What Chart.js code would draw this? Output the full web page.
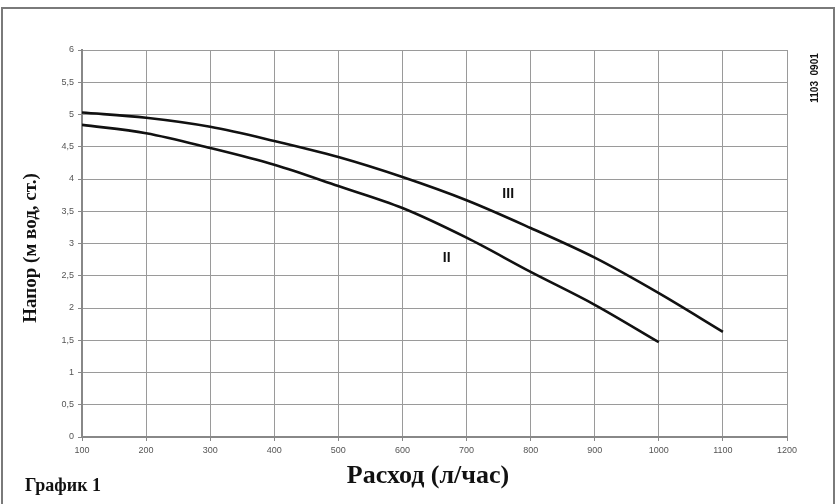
<!DOCTYPE html>
<html><head><meta charset="utf-8">
<script src="https://cdn.jsdelivr.net/npm/chart.js@4/dist/chart.umd.min.js"></script>
<style>html,body{margin:0;padding:0;background:#fff}#wrap{width:837px;height:504px;position:relative}</style>
</head><body><div id="wrap"><canvas id="c" width="837" height="504"></canvas></div>
<script>
const flowIII = [100,200,300,400,500,600,700,800,900,1000,1100];
const headIII = [5.03,4.95,4.81,4.59,4.34,4.03,3.67,3.24,2.78,2.23,1.63];
const flowII = [100,200,300,400,500,600,700,800,900,1000];
const headII = [4.84,4.71,4.48,4.22,3.89,3.55,3.09,2.56,2.05,1.47];
const curveNames = ['III','II'];
const curveLabelX = [765,669];
const curveLabelY = [3.77,2.78];
const xTitle = 'Расход (л/час)';
const yTitle = 'Напор (м вод, ст.)';
const chartCaption = 'График 1';
const codeText = '1103  0901';

const extras = {
  id:'extras',
  beforeDraw(chart){
    const ctx=chart.ctx; ctx.save();
    ctx.fillStyle='#fff'; ctx.fillRect(0,0,chart.width,chart.height);
    ctx.restore();
  },
  afterDraw(chart){
    const ctx=chart.ctx, xs=chart.scales.x, ys=chart.scales.y;
    ctx.save();
    // frame
    ctx.strokeStyle='#7a7a7a'; ctx.lineWidth=2;
    ctx.beginPath(); ctx.moveTo(2,510); ctx.lineTo(2,8); ctx.lineTo(834,8); ctx.lineTo(834,510); ctx.stroke();
    // curve labels
    ctx.fillStyle='#111'; ctx.font='bold 14px "Liberation Sans", Arial, sans-serif';
    ctx.textAlign='center'; ctx.textBaseline='middle';
    curveNames.forEach((n,i)=>ctx.fillText(n, xs.getPixelForValue(curveLabelX[i]), ys.getPixelForValue(curveLabelY[i])));
    // x title
    ctx.textBaseline='alphabetic';
    ctx.font='bold 26px "Liberation Serif", "Times New Roman", serif';
    ctx.fillText(xTitle, 428, 483);
    // caption
    ctx.textAlign='left';
    ctx.font='bold 18px "Liberation Serif", "Times New Roman", serif';
    ctx.fillText(chartCaption, 25, 491);
    // y title
    ctx.save(); ctx.translate(31,248); ctx.rotate(-Math.PI/2);
    ctx.textAlign='center'; ctx.textBaseline='middle';
    ctx.font='bold 19px "Liberation Serif", "Times New Roman", serif';
    ctx.fillText(yTitle,0,0); ctx.restore();
    // code
    ctx.save(); ctx.translate(815,78); ctx.rotate(-Math.PI/2);
    ctx.textAlign='center'; ctx.textBaseline='middle';
    ctx.font='bold 10px "Liberation Sans", Arial, sans-serif';
    ctx.fillText(codeText,0,0); ctx.restore();
    ctx.restore();
  }
};

new Chart(document.getElementById('c'),{
  type:'line',
  data:{datasets:[
    {label:'III',data:flowIII.map((x,i)=>({x,y:headIII[i]})),borderColor:'#111',borderWidth:2.6,pointRadius:0,cubicInterpolationMode:'monotone',fill:false},
    {label:'II',data:flowII.map((x,i)=>({x,y:headII[i]})),borderColor:'#111',borderWidth:2.6,pointRadius:0,cubicInterpolationMode:'monotone',fill:false}
  ]},
  options:{
    responsive:false,animation:false,
    layout:{padding:{left:52,right:50,top:50,bottom:47}},
    plugins:{legend:{display:false},tooltip:{enabled:false}},
    scales:{
      x:{type:'linear',min:100,max:1200,
        afterFit(s){s.height=20;},
        ticks:{stepSize:100,color:'#555',font:{family:'"Liberation Sans", Arial, sans-serif',size:9},padding:4,maxRotation:0,
          callback:v=>String(v)},
        grid:{color:'#9a9a9a',lineWidth:1,tickLength:4,tickColor:'#888'},
        border:{color:'#888',width:2}},
      y:{type:'linear',min:0,max:6,
        afterFit(s){s.width=30;},
        ticks:{stepSize:0.5,color:'#555',font:{family:'"Liberation Sans", Arial, sans-serif',size:9},padding:4,
          callback:v=>String(v).replace('.',',')},
        grid:{color:'#9a9a9a',lineWidth:1,tickLength:4,tickColor:'#888'},
        border:{color:'#888',width:2}}
    }
  },
  plugins:[extras]
});
</script></body></html>
